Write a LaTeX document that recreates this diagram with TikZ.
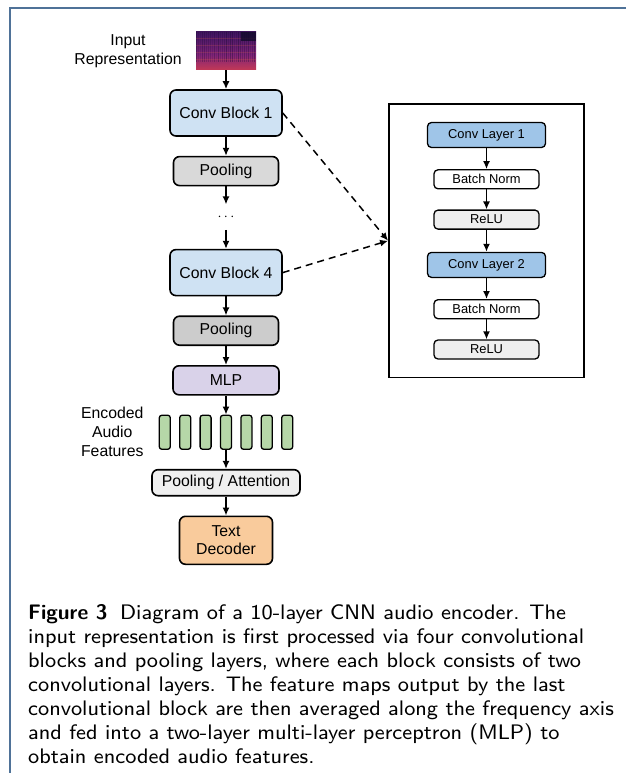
\documentclass[tikz,border=0pt]{standalone}
\usepackage{fontspec}
\usepackage{graphicx}
\newfontfamily\diagfont{Liberation Sans}
\usetikzlibrary{arrows.meta,shapes,positioning,calc,fit}

\definecolor{framecol}{RGB}{79,114,152}
\definecolor{convblue}{HTML}{CFE2F3}
\definecolor{layerblue}{HTML}{9FC5E8}
\definecolor{poolgray}{HTML}{D9D9D9}
\definecolor{pooldark}{HTML}{CCCCCC}
\definecolor{lightgray}{HTML}{EFEFEF}
\definecolor{mlppurple}{HTML}{D9D2E9}
\definecolor{featgreen}{HTML}{B6D7A8}
\definecolor{decoderorange}{HTML}{F9CB9C}
\definecolor{specdark}{RGB}{18,10,43}
\definecolor{specpurple}{RGB}{70,22,100}
\definecolor{specmag}{RGB}{128,36,120}
\definecolor{specred}{RGB}{205,60,80}
\definecolor{specorange}{RGB}{245,110,70}

\pgfdeclareverticalshading{specshade}{100bp}{color(0bp)=(specorange); color(10bp)=(specorange); color(22bp)=(specred); color(45bp)=(specmag); color(72bp)=(specpurple); color(100bp)=(specdark)}

\begin{document}
\begin{tikzpicture}
[x=1pt,y=-1pt,
node distance=19pt,
box/.style={shape=rectangle,draw=black,line width=1.6pt,rounded corners=6pt,inner sep=0pt,
  align=center,font=\fontsize{15.8}{18.5}\diagfont},
convblock/.style={box,fill=convblue,minimum width=112pt,minimum height=46pt},
poolbox/.style={box,fill=poolgray,minimum width=105pt,minimum height=29pt},
mlpbox/.style={box,fill=mlppurple,minimum width=106pt,minimum height=29pt},
pabox/.style={box,fill=lightgray,minimum width=148pt,minimum height=26pt},
decoderbox/.style={box,fill=decoderorange,minimum width=93pt,minimum height=48pt},
featbar/.style={box,fill=featgreen,rounded corners=2.5pt,line width=1.3pt,minimum width=11pt,minimum height=34pt},
smallbox/.style={box,line width=1.3pt,rounded corners=4pt,font=\fontsize{12.9}{15}\diagfont},
layerbox/.style={smallbox,fill=layerblue,minimum width=118pt,minimum height=25pt},
normbox/.style={smallbox,fill=white,minimum width=105pt,minimum height=19pt},
relubox/.style={smallbox,fill=lightgray,minimum width=105pt,minimum height=19pt},
panelbox/.style={shape=rectangle,draw=black,line width=1.5pt,inner xsep=38pt,inner ysep=18pt},
sidetext/.style={inner sep=0pt,align=center,font=\fontsize{15.8}{19}\diagfont},
spectro/.style={shape=rectangle,inner sep=0pt,minimum width=60pt,minimum height=38pt,shading=specshade},
dedge/.style={->,>={Latex[length=8pt,width=7pt]}, shorten >=.0pt, shorten <=.0pt, line width=1.5pt},
dashedge/.style={dedge,dash pattern=on 7pt off 5pt}]
\useasboundingbox (0,0) rectangle (626,773);
\draw[framecol,line width=2pt] (10,773) -- (10,8) -- (626,8);
%% encoder
\node (spec) [spectro] at (226,51) {};
\pgfmathsetseed{7}
\foreach \k in {0,2,...,58}
  \draw[specdark,line width=1pt,opacity={0.1+0.3*rnd}] ($(spec.north west)+(\k+1,0)$) -- ($(spec.north west)+(\k+1,30)$);
\foreach \k in {6,13,...,27}
  \draw[specorange,line width=.5pt,opacity=.18] ($(spec.north west)+(0,\k)$) -- ($(spec.north east)+(0,\k)$);
\fill[specdark,opacity=.8] ($(spec.north east)+(-15,0)$) rectangle ($(spec.north east)+(0,9)$);
\node (inrep) [sidetext,left=14pt of spec] {Input\\Representation};
\node (cb1) [convblock,below=of spec] {Conv Block 1};
\node (pool1) [poolbox,below=of cb1] {Pooling};
\node (dots) [inner sep=0pt,minimum height=25pt,below=18pt of pool1] {\fontsize{15.8}{18}\selectfont$\cdots$};
\node (cb4) [convblock,below=of dots] {Conv Block 4};
\node (pool2) [poolbox,fill=pooldark,below=of cb4] {Pooling};
\node (mlp) [mlpbox,below=of pool2] {MLP};
\foreach \i in {1,...,7}
  \node (feat\i) [featbar,below=of mlp,xshift={(\i-4)*20.4pt}] {};
\node (featlbl) [sidetext,left=15pt of feat1] {Encoded\\Audio\\Features};
\node (pa) [pabox,below=of feat4] {Pooling / Attention};
\node (td) [decoderbox,below=of pa] {Text\\Decoder};
\draw[dedge] (spec) -- (cb1);
\draw[dedge] (cb1) -- (pool1);
\draw[dedge] (pool1) -- (dots);
\draw[dedge] (dots) -- (cb4);
\draw[dedge] (cb4) -- (pool2);
\draw[dedge] (pool2) -- (mlp);
\draw[dedge] (mlp) -- (feat4);
\draw[dedge] (feat4) -- (pa);
\draw[dedge] (pa) -- (td);
%% conv block detail
\node (cl1) [layerbox] at (486.5,135) {Conv Layer 1};
\node (bn1) [normbox,below=21pt of cl1] {Batch Norm};
\node (relu1) [relubox,below=20pt of bn1] {ReLU};
\node (cl2) [layerbox,below=22pt of relu1] {Conv Layer 2};
\node (bn2) [normbox,below=21pt of cl2] {Batch Norm};
\node (relu2) [relubox,below=20pt of bn2] {ReLU};
\node (panel) [panelbox,fit=(cl1)(relu2)] {};
\draw[dedge] (cl1) -- (bn1);
\draw[dedge] (bn1) -- (relu1);
\draw[dedge] (relu1) -- (cl2);
\draw[dedge] (cl2) -- (bn2);
\draw[dedge] (bn2) -- (relu2);
\draw[dashedge] (cb1.east) -- (panel.west);
\draw[dashedge] (cb4.east) -- (panel.west);
%% caption
\node (caption) [anchor=base west,inner sep=0pt] at (28,619)
  {\scalebox{2.625}{\fontsize{8}{9.143}\selectfont\sffamily
  \begin{tabular}[t]{@{}l@{}}
  \textbf{Figure 3}\hspace{.6em}Diagram of a 10-layer CNN audio encoder. The\\
  input representation is first processed via four convolutional\\
  blocks and pooling layers, where each block consists of two\\
  convolutional layers. The feature maps output by the last\\
  convolutional block are then averaged along the frequency axis\\
  and fed into a two-layer multi-layer perceptron (MLP) to\\
  obtain encoded audio features.
  \end{tabular}}};
\end{tikzpicture}
\end{document}
